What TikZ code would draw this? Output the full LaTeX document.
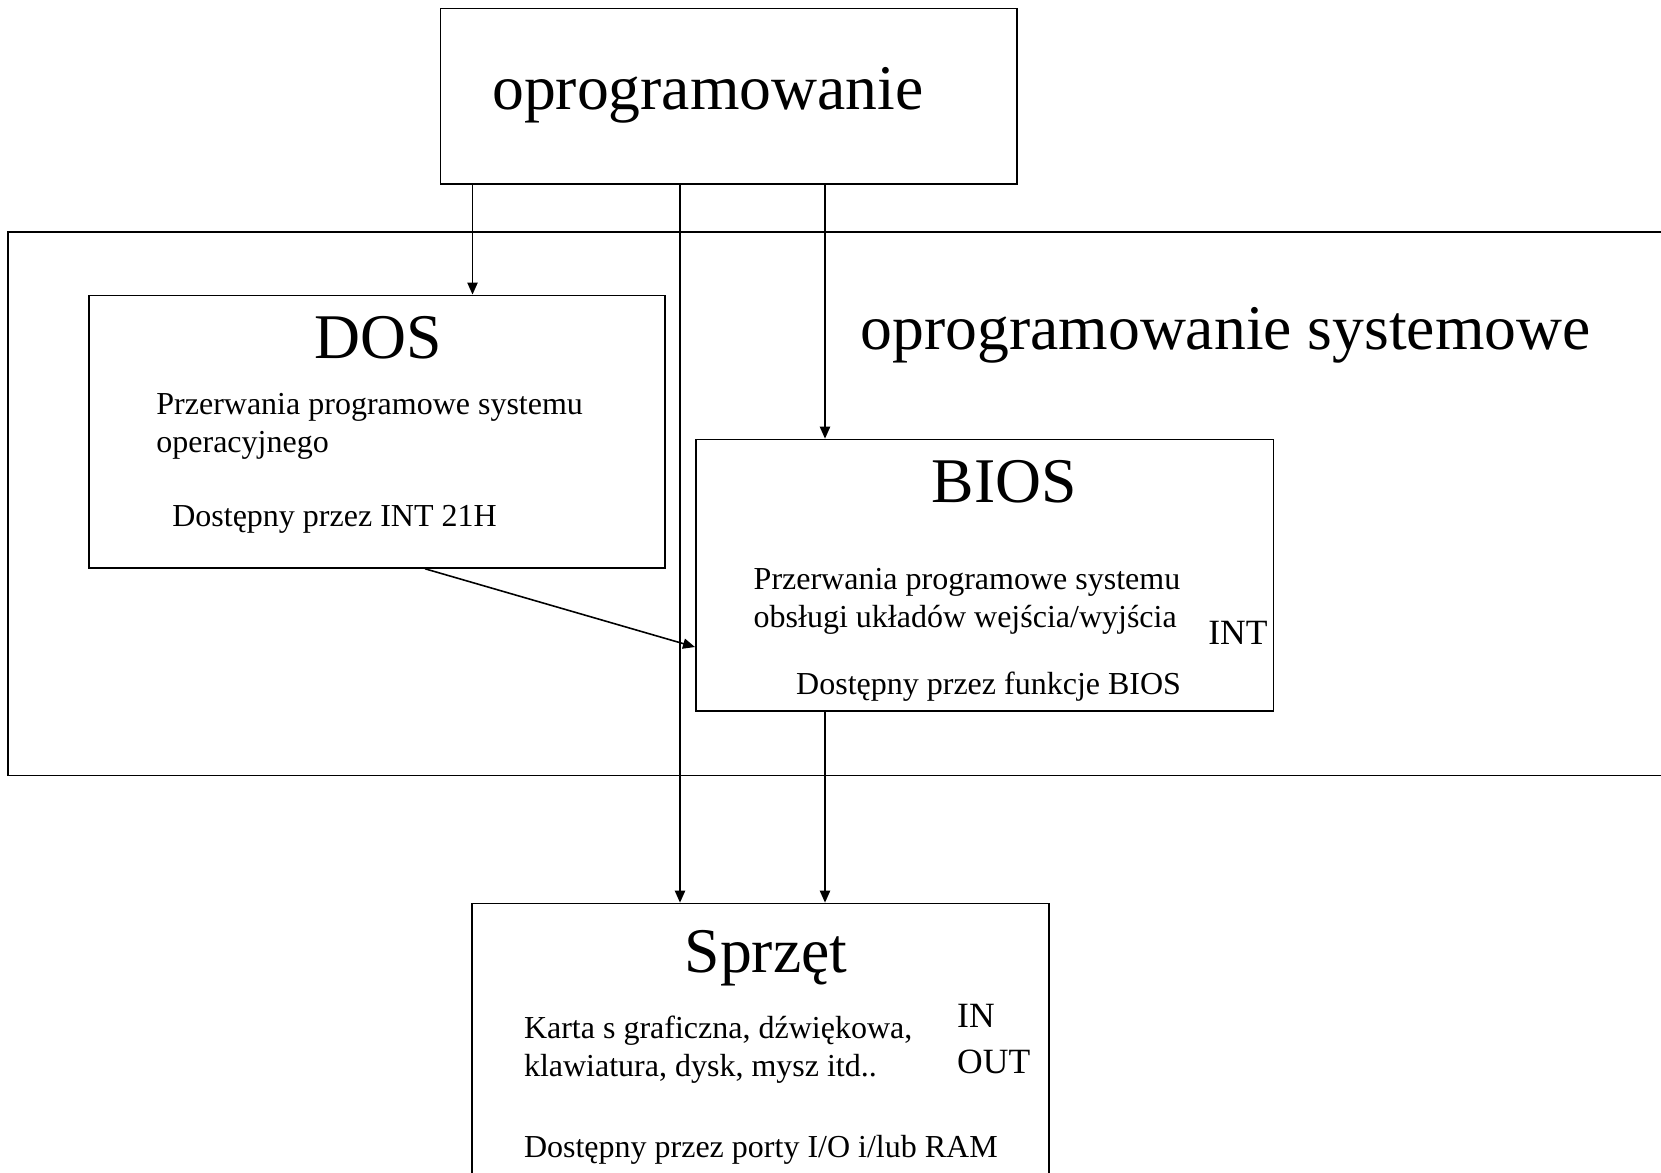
\documentclass[tikz,border=0pt]{standalone}
\usepackage{fontspec}
\setmainfont{Liberation Serif}
\usetikzlibrary{arrows.meta}

\tikzset{
  box/.style={draw, line width=0.5pt, inner sep=0pt},
  arr/.style={line width=0.45pt, -{Triangle[length=3.4pt,width=2.9pt]}},
  big/.style={font=\fontsize{18.1}{21}\selectfont, inner sep=0pt, anchor=base west},
  small/.style={font=\fontsize{9.1}{10.6}\selectfont, inner sep=0pt, anchor=base west, align=left},
  lbl/.style={font=\fontsize{10.1}{12.9}\selectfont, inner sep=0pt, anchor=base west, align=left},
}

\begin{document}
\begin{tikzpicture}[x=0.01cm,y=-0.01cm]
   \useasboundingbox (0,0) rectangle (1661,1172);
   \clip (0,0) rectangle (1661,1172);

   % boxes
   \node[box, minimum width=5.763cm, minimum height=1.758cm]  (top)  at (728.85,96.4)  {} ;
   \node[box, minimum width=16.915cm, minimum height=5.434cm] (sys)  at (854.25,503.7) {} ;
   \node[box, minimum width=5.762cm, minimum height=2.723cm]  (dos)  at (377.1,431.65) {} ;
   \node[box, minimum width=5.773cm, minimum height=2.712cm]  (bios) at (984.65,575.2) {} ;
   \node[box, minimum width=5.762cm, minimum height=2.72cm]   (hw)   at (760.6,1039.6) {} ;

   % texts (multi-line ones sit on their last line)
   \node[big] (topT)  at (491.5,109)  {oprogramowanie} ;
   \node[big] (sysT)  at (860,349.6)  {oprogramowanie systemowe} ;
   \node[big] (dosT)  at (313.5,358)  {DOS} ;
   \node[big] (biosT) at (931,502)    {BIOS} ;
   \node[big] (hwT)   at (684,972.5)  {Sprzęt} ;

   \node[small] (dos1)  at (155.7,452) {Przerwania programowe systemu\\operacyjnego} ;
   \node[small] (dos2)  at (171.6,526.5) {Dostępny przez INT 21H} ;
   \node[small] (bios1) at (753,627)  {Przerwania programowe systemu\\obsługi układów wejścia/wyjścia} ;
   \node[small] (bios2) at (795.5,694) {Dostępny przez funkcje BIOS} ;
   \node[small] (hw1)   at (523.3,1076) {Karta s graficzna, dźwiękowa,\\klawiatura, dysk, mysz itd..} ;
   \node[small] (hw2)   at (523.3,1157) {Dostępny przez porty I/O i/lub RAM} ;

   \node[lbl] (int)   at (1207.6,644)  {INT} ;
   \node[lbl] (inout) at (956.5,1073) {IN\\OUT} ;

   % connectors
   \coordinate (c1) at (472.5,0) ;
   \coordinate (c2) at (680,0) ;
   \coordinate (c3) at (825,0) ;
   \coordinate (c4) at (425,0) ;
   \coordinate (c5) at (0,647) ;

   \draw[arr] (top.south -| c1) -- (dos.north -| c1) ;
   \draw[arr] (top.south -| c2) -- (hw.north -| c2) ;
   \draw[arr] (top.south -| c3) -- (bios.north -| c3) ;
   \draw[arr] (bios.south -| c3) -- (hw.north -| c3) ;
   \draw[arr] (dos.south -| c4) -- (bios.west |- c5) ;

\end{tikzpicture}
\end{document}
